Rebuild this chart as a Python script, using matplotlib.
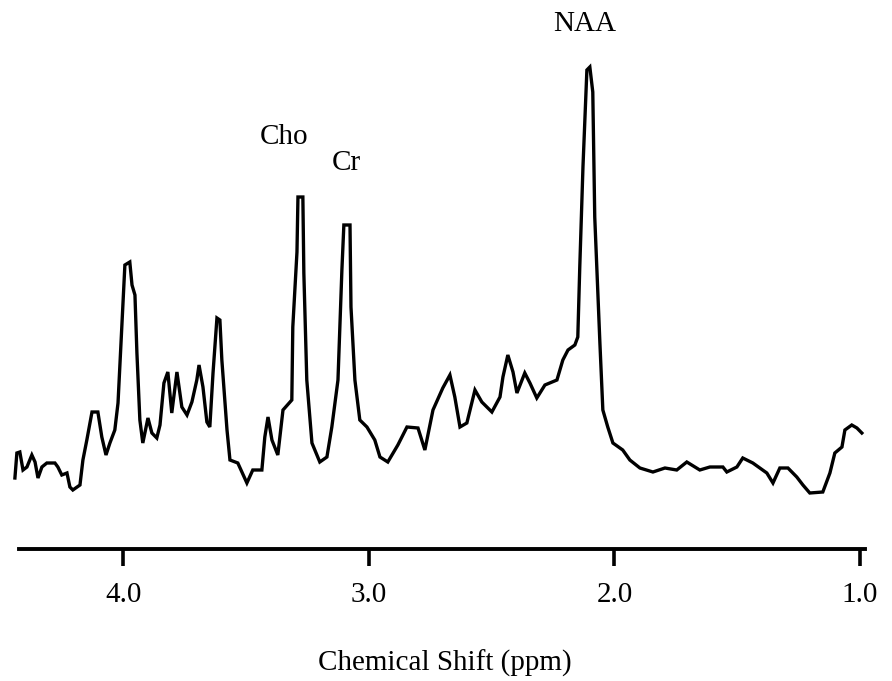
import numpy as np
import matplotlib
matplotlib.use("Agg")
import matplotlib.pyplot as plt


# spectrum (ppm, intensity in a.u.)
ppm = [4.442, 4.434, 4.422, 4.409, 4.393, 4.373, 4.360, 4.348, 4.332, 4.312,
       4.279, 4.267, 4.251, 4.230, 4.218, 4.206, 4.177, 4.165, 4.149, 4.128,
       4.104, 4.088, 4.071, 4.055, 4.035, 4.022, 4.006, 3.994, 3.974, 3.965,
       3.953, 3.945, 3.933, 3.921, 3.900, 3.884, 3.864, 3.851, 3.835, 3.819,
       3.803, 3.782, 3.762, 3.741, 3.721, 3.701, 3.692, 3.676, 3.660, 3.648,
       3.635, 3.619, 3.607, 3.599, 3.578, 3.566, 3.534, 3.497, 3.473, 3.436,
       3.424, 3.411, 3.395, 3.371, 3.350, 3.314, 3.310, 3.293, 3.289, 3.269,
       3.265, 3.253, 3.232, 3.200, 3.171, 3.151, 3.126, 3.110, 3.102, 3.077,
       3.073, 3.057, 3.037, 3.008, 2.976, 2.955, 2.923, 2.882, 2.845, 2.800,
       2.772, 2.739, 2.699, 2.670, 2.650, 2.629, 2.601, 2.568, 2.540, 2.499,
       2.466, 2.454, 2.434, 2.413, 2.397, 2.365, 2.344, 2.316, 2.283, 2.234,
       2.210, 2.189, 2.161, 2.149, 2.141, 2.128, 2.112, 2.100, 2.088, 2.080,
       2.059, 2.047, 2.027, 2.006, 1.966, 1.937, 1.896, 1.843, 1.794, 1.746,
       1.705, 1.652, 1.611, 1.558, 1.542, 1.501, 1.477, 1.436, 1.379, 1.354,
       1.326, 1.293, 1.257, 1.232, 1.204, 1.151, 1.122, 1.102, 1.073, 1.061,
       1.033, 1.012, 0.992]

intensity = [70, 95, 96, 78, 81, 93, 86, 70, 81, 85,
             85, 81, 73, 75, 61, 58, 63, 88, 108, 136,
             136, 111, 93, 105, 118, 145, 225, 283, 286, 263,
             253, 195, 128, 105, 130, 115, 110, 123, 165, 176,
             135, 176, 141, 133, 146, 168, 183, 161, 126, 121,
             175, 230, 228, 188, 118, 88, 85, 65, 78, 78,
             111, 131, 108, 93, 138, 148, 221, 296, 351, 351,
             275, 168, 105, 86, 91, 121, 168, 278, 323, 323,
             241, 168, 128, 121, 108, 91, 86, 103, 121, 120,
             98, 138, 160, 173, 151, 121, 125, 158, 146, 136,
             151, 171, 193, 176, 155, 175, 165, 150, 163, 168,
             188, 198, 203, 211, 281, 381, 478, 481, 456, 331,
             205, 138, 121, 105, 98, 88, 80, 76, 80, 78,
             86, 78, 81, 81, 76, 81, 90, 85, 75, 65,
             80, 80, 71, 63, 55, 56, 75, 95, 101, 118,
             123, 120, 115]

peak_names = ["Cho", "Cr", "NAA"]
peak_ppm = [3.346, 3.090, 2.120]
peak_label_y = [411, 385, 524]

tick_values = [4.0, 3.0, 2.0, 1.0]
tick_labels = ["4.0", "3.0", "2.0", "1.0"]


plt.rcParams['font.family'] = ['Liberation Serif', 'DejaVu Serif']

fig = plt.figure(figsize=(8.92, 6.81), dpi=100)
ax = fig.add_axes([10 / 892, (681 - 549) / 681, 870 / 892, 549 / 681])

ax.plot(ppm, intensity, color='black', linewidth=2.4, solid_joinstyle='miter')

# peak names
for name, x, y in zip(peak_names, peak_ppm, peak_label_y):
    ax.text(x, y, name, ha='center', va='center', fontsize=21, clip_on=False)

ax.set_xlim(4.462, 0.918)
ax.set_ylim(-1, 548)

# only the bottom axis is shown
for side in ['top', 'left', 'right']:
    ax.spines[side].set_visible(False)
ax.spines['bottom'].set_linewidth(2.8)
ax.spines['bottom'].set_bounds(4.426, 0.980)
ax.set_yticks([])

ax.set_xticks(tick_values)
ax.set_xticklabels(tick_labels)
ax.tick_params(axis='x', direction='out', length=12, width=2.6,
               pad=12, labelsize=21)

ax.set_xlabel("Chemical Shift (ppm)", fontsize=21, labelpad=30)

fig.savefig("out.png", dpi=100)
